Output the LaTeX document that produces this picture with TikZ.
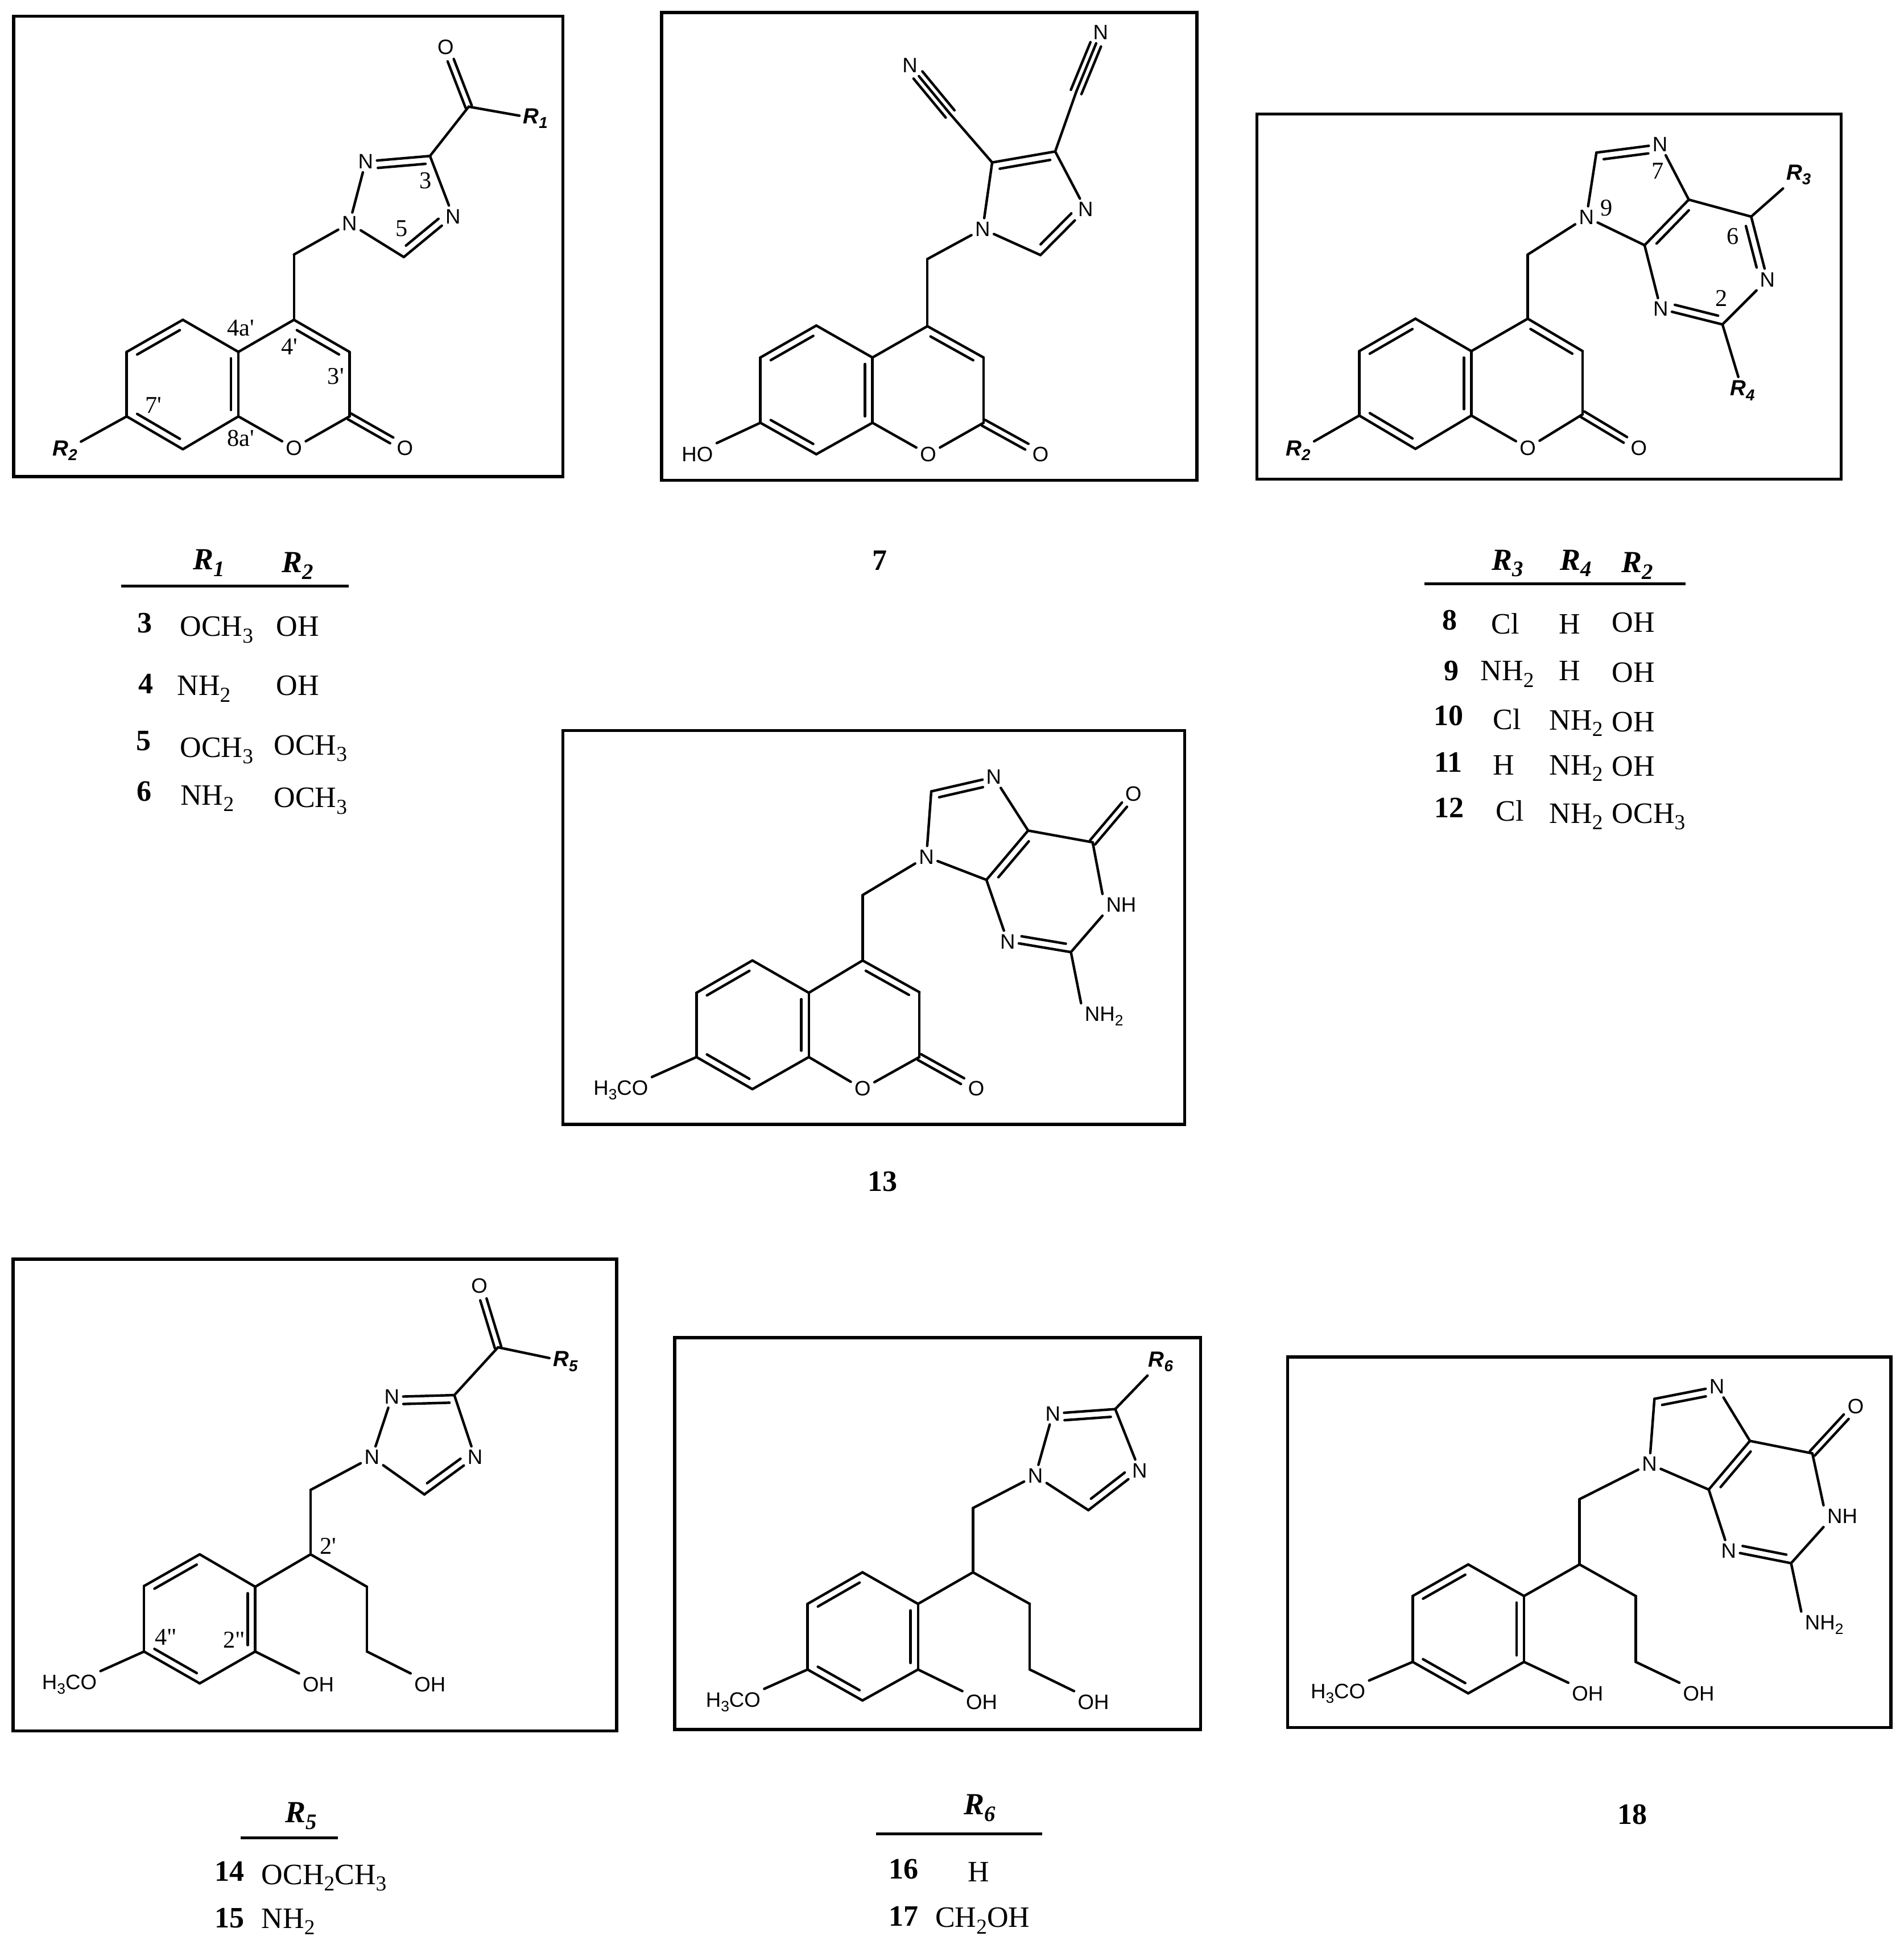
\documentclass[tikz,border=0pt]{standalone}
\usepackage{fontspec}
\setmainfont{Liberation Serif}
\newfontfamily\atomfont{Liberation Sans}
\usetikzlibrary{calc}
\tikzset{
  bond/.style={line width=1.15pt,line cap=round,line join=round},
  molbox/.style={draw,line width=1.4pt},
  tabrule/.style={line width=1.3pt},
  atom/.style={font=\atomfont\fontsize{9.5}{11}\selectfont,inner sep=1.5pt},
  rgroup/.style={font=\atomfont\bfseries\itshape\fontsize{10}{12}\selectfont,inner sep=1.5pt},
  numlabel/.style={font=\fontsize{11}{13}\selectfont,inner sep=0pt},
  cell/.style={font=\fontsize{13.5}{15}\selectfont,inner sep=0pt,anchor=base west},
  headcell/.style={font=\bfseries\itshape\fontsize{14}{16}\selectfont,inner sep=0pt,anchor=base west},
  idx/.style={font=\bfseries\fontsize{13.5}{15}\selectfont,inner sep=0pt}
}
\newcommand{\prm}{\textquotesingle}
\newcommand{\dprm}{\textquotedbl}
\newcommand{\sbs}[1]{\raisebox{-.22em}{\scalebox{.72}{#1}}}
\newcommand{\dbond}[5]{
  \draw[bond] (#1) -- (#2);
  \draw[bond] ($(#1)!#4!(#2)!3.4pt!#3:(#2)$) -- ($(#1)!#5!(#2)!3.4pt!#3:(#2)$);
}
\newcommand{\cbond}[3]{
  \draw[bond] ($(#1)!1.5pt!90:(#2)$) -- ($(#1)!#3!(#2)!1.5pt!90:(#2)$);
  \draw[bond] ($(#1)!1.5pt!-90:(#2)$) -- ($(#1)!#3!(#2)!1.5pt!-90:(#2)$);
}
\newcommand{\tbond}[3]{
  \draw[bond] (#1) -- (#2);
  \draw[bond] ($(#1)!2.6pt!90:(#2)$) -- ($(#1)!#3!(#2)!2.6pt!90:(#2)$);
  \draw[bond] ($(#1)!2.6pt!-90:(#2)$) -- ($(#1)!#3!(#2)!2.6pt!-90:(#2)$);
}
\begin{document}
\begin{tikzpicture}[x=0.02cm,y=-0.02cm]
  \useasboundingbox (0,0) rectangle (1525,1568.3);

  \draw[molbox] (11,13) rectangle (451,382);
  \coordinate (aCO) at (375.5,85.5);
  \node[atom] (aO) at (357,37.7) {O};
  \node[rgroup] (aR1) at (429,95) {R\sbs{1}};
  \coordinate (aC3) at (344.5,125);
  \node[atom] (aN2) at (293,129.4) {N};
  \node[atom] (aN4) at (363,173.4) {N};
  \node[atom] (aN1) at (280,179) {N};
  \coordinate (aC5) at (323.5,206);
  \coordinate (aCH) at (235.5,204);
  \coordinate (aCp4) at (235.5,256.3);
  \coordinate (aCp3) at (280,282);
  \coordinate (aCp2) at (280,333.7);
  \node[atom] (aOr) at (235.5,359) {O};
  \node[atom] (aOx) at (324.5,359) {O};
  \coordinate (aC8a) at (191,333.7);
  \coordinate (aC4a) at (191,282);
  \coordinate (aCp5) at (146.5,256.3);
  \coordinate (aCp6) at (101.5,282);
  \coordinate (aCp7) at (101.5,333.7);
  \coordinate (aCp8) at (146.5,360);
  \node[rgroup] (aR2) at (52,361) {R\sbs{2}};
  \cbond{aCO}{aO}{.78}
  \draw[bond] (aCO) -- (aR1);
  \draw[bond] (aCO) -- (aC3);
  \dbond{aC3}{aN2}{90}{.08}{.82}
  \draw[bond] (aC3) -- (aN4);
  \draw[bond] (aN1) -- (aN2);
  \draw[bond] (aN1) -- (aC5);
  \dbond{aN4}{aC5}{-90}{.2}{.86}
  \draw[bond] (aCH) -- (aN1);
  \draw[bond] (aCH) -- (aCp4);
  \dbond{aCp4}{aCp3}{-90}{.12}{.88}
  \draw[bond] (aCp3) -- (aCp2);
  \draw[bond] (aCp2) -- (aOr);
  \draw[bond] (aOr) -- (aC8a);
  \cbond{aCp2}{aOx}{.76}
  \dbond{aC8a}{aC4a}{90}{.1}{.9}
  \draw[bond] (aC4a) -- (aCp4);
  \draw[bond] (aC4a) -- (aCp5);
  \dbond{aCp5}{aCp6}{90}{.12}{.88}
  \draw[bond] (aCp6) -- (aCp7);
  \dbond{aCp7}{aCp8}{90}{.12}{.88}
  \draw[bond] (aCp8) -- (aC8a);
  \draw[bond] (aCp7) -- (aR2);
  \node[numlabel] (aNum3) at (341,145) {3};
  \node[numlabel] (aNum5) at (322,183) {5};
  \node[numlabel] (aNum4a) at (193,263) {4a\prm};
  \node[numlabel] (aNum4) at (232,278) {4\prm};
  \node[numlabel] (aNum3p) at (269,301.5) {3\prm};
  \node[numlabel] (aNum7) at (123,325) {7\prm};
  \node[numlabel] (aNum8a) at (193,351) {8a\prm};

  \node[headcell] (taR1) at (154.2,456.6) {R\sbs{1}};
  \node[headcell] (taR2) at (225.6,458.6) {R\sbs{2}};
  \draw[tabrule] (97.2,469.5) -- (279.6,469.5);
  \node[idx] (ta3) at (116.2,499.4) {3};
  \node[cell] (ta3a) at (143.9,509.8) {OCH\sbs{3}};
  \node[cell] (ta3b) at (221,509.8) {OH};
  \node[idx] (ta4) at (117,547.8) {4};
  \node[cell] (ta4a) at (141.6,557.3) {NH\sbs{2}};
  \node[cell] (ta4b) at (221,557.3) {OH};
  \node[idx] (ta5) at (115.1,593.8) {5};
  \node[cell] (ta5a) at (143.9,606.7) {OCH\sbs{3}};
  \node[cell] (ta5b) at (219.1,604.8) {OCH\sbs{3}};
  \node[idx] (ta6) at (115.4,634.4) {6};
  \node[cell] (ta6a) at (144.3,645) {NH\sbs{2}};
  \node[cell] (ta6b) at (219.1,647) {OCH\sbs{3}};

  \draw[molbox] (530,10) rectangle (959,385);
  \node[atom] (bNa) at (881.8,26) {N};
  \coordinate (bCa) at (862.2,73.7);
  \coordinate (bC4) at (845.4,121.4);
  \node[atom] (bNb) at (729,52.3) {N};
  \coordinate (bCb) at (761.2,91.3);
  \coordinate (bC5) at (794.9,130.2);
  \node[atom] (bN1) at (787.3,183.5) {N};
  \node[atom] (bN3) at (869.8,167.9) {N};
  \coordinate (bC2) at (833.6,204.4);
  \coordinate (bCH) at (743,207.6);
  \coordinate (bCp4) at (743,261.4);
  \coordinate (bCp3) at (788,286.5);
  \coordinate (bCp2) at (788,338.8);
  \node[atom] (bOr) at (743.6,364) {O};
  \node[atom] (bOx) at (833.6,364) {O};
  \coordinate (bC8a) at (699,338.8);
  \coordinate (bC4a) at (699,286.5);
  \coordinate (bCp5) at (654,260.9);
  \coordinate (bCp6) at (609.2,286.5);
  \coordinate (bCp7) at (609.2,338.8);
  \coordinate (bCp8) at (654,364);
  \node[atom] (bHO) at (558.7,364) {HO};
  \tbond{bCa}{bNa}{.8}
  \draw[bond] (bC4) -- (bCa);
  \tbond{bCb}{bNb}{.8}
  \draw[bond] (bC5) -- (bCb);
  \dbond{bC5}{bC4}{-90}{.1}{.9}
  \draw[bond] (bC5) -- (bN1);
  \draw[bond] (bC4) -- (bN3);
  \dbond{bN3}{bC2}{-90}{.2}{.88}
  \draw[bond] (bN1) -- (bC2);
  \draw[bond] (bCH) -- (bN1);
  \draw[bond] (bCH) -- (bCp4);
  \dbond{bCp4}{bCp3}{-90}{.12}{.88}
  \draw[bond] (bCp3) -- (bCp2);
  \draw[bond] (bCp2) -- (bOr);
  \draw[bond] (bOr) -- (bC8a);
  \cbond{bCp2}{bOx}{.76}
  \dbond{bC8a}{bC4a}{90}{.1}{.9}
  \draw[bond] (bC4a) -- (bCp4);
  \draw[bond] (bC4a) -- (bCp5);
  \dbond{bCp5}{bCp6}{90}{.12}{.88}
  \draw[bond] (bCp6) -- (bCp7);
  \dbond{bCp7}{bCp8}{90}{.12}{.88}
  \draw[bond] (bCp8) -- (bC8a);
  \draw[bond] (bCp7) -- (bHO.north east);
  \node[idx] (cap7) at (705,449) {7};

  \draw[molbox] (1007,91.5) rectangle (1475,384);
  \node[atom] (cN7) at (1330,115.7) {N};
  \coordinate (cC8) at (1279,122.3);
  \node[atom] (cN9) at (1271,174) {N};
  \coordinate (cC4) at (1317.6,196.5);
  \coordinate (cC5) at (1353,160);
  \coordinate (cC6) at (1403,173.6);
  \node[rgroup] (cR3) at (1441,140) {R\sbs{3}};
  \node[atom] (cN1) at (1416,224) {N};
  \coordinate (cC2) at (1380,260);
  \node[atom] (cN3) at (1330.5,247.6) {N};
  \node[rgroup] (cR4) at (1396,313) {R\sbs{4}};
  \coordinate (cCH) at (1224,204);
  \coordinate (cCp4) at (1224,255.4);
  \coordinate (cCp3) at (1268,281.4);
  \coordinate (cCp2) at (1268,332);
  \node[atom] (cOr) at (1224,359) {O};
  \node[atom] (cOx) at (1313,359) {O};
  \coordinate (cC8a) at (1178.8,333);
  \coordinate (cC4a) at (1178.8,281.4);
  \coordinate (cCp5) at (1134,255.4);
  \coordinate (cCp6) at (1089,281.4);
  \coordinate (cCp7) at (1089,333);
  \coordinate (cCp8) at (1134,359.7);
  \node[rgroup] (cR2) at (1040,361) {R\sbs{2}};
  \dbond{cC8}{cN7}{-90}{.1}{.8}
  \draw[bond] (cC8) -- (cN9);
  \draw[bond] (cN9) -- (cC4);
  \draw[bond] (cN7) -- (cC5);
  \dbond{cC4}{cC5}{-90}{.15}{.88}
  \draw[bond] (cC5) -- (cC6);
  \dbond{cC6}{cN1}{-90}{.12}{.78}
  \draw[bond] (cN1) -- (cC2);
  \dbond{cC2}{cN3}{-90}{.1}{.8}
  \draw[bond] (cN3) -- (cC4);
  \draw[bond] (cC6) -- (cR3);
  \draw[bond] (cC2) -- (cR4);
  \draw[bond] (cCH) -- (cN9);
  \draw[bond] (cCH) -- (cCp4);
  \dbond{cCp4}{cCp3}{-90}{.12}{.88}
  \draw[bond] (cCp3) -- (cCp2);
  \draw[bond] (cCp2) -- (cOr);
  \draw[bond] (cOr) -- (cC8a);
  \cbond{cCp2}{cOx}{.76}
  \dbond{cC8a}{cC4a}{90}{.1}{.9}
  \draw[bond] (cC4a) -- (cCp4);
  \draw[bond] (cC4a) -- (cCp5);
  \dbond{cCp5}{cCp6}{90}{.12}{.88}
  \draw[bond] (cCp6) -- (cCp7);
  \dbond{cCp7}{cCp8}{90}{.12}{.88}
  \draw[bond] (cCp8) -- (cC8a);
  \draw[bond] (cCp7) -- (cR2);
  \node[numlabel] (cNum7) at (1328,137) {7};
  \node[numlabel] (cNum9) at (1287,166.5) {9};
  \node[numlabel] (cNum6) at (1388.5,189.4) {6};
  \node[numlabel] (cNum2) at (1379,239) {2};

  \node[headcell] (tcR3) at (1195,456.7) {R\sbs{3}};
  \node[headcell] (tcR4) at (1249.7,456.7) {R\sbs{4}};
  \node[headcell] (tcR2) at (1298.8,458.6) {R\sbs{2}};
  \draw[tabrule] (1141.3,468) -- (1350.5,468);
  \node[idx] (tc8) at (1161.3,497.2) {8};
  \node[cell] (tc8a) at (1194.5,508) {Cl};
  \node[cell] (tc8b) at (1248.6,508) {H};
  \node[cell] (tc8c) at (1291.2,506.7) {OH};
  \node[idx] (tc9) at (1162.8,537.5) {9};
  \node[cell] (tc9a) at (1185.9,545.4) {NH\sbs{2}};
  \node[cell] (tc9b) at (1248.6,545.4) {H};
  \node[cell] (tc9c) at (1291.2,546.6) {OH};
  \node[idx] (tc10) at (1160.5,573.7) {10};
  \node[cell] (tc10a) at (1196,584.5) {Cl};
  \node[cell] (tc10b) at (1241,584.8) {NH\sbs{2}};
  \node[cell] (tc10c) at (1291.2,586.4) {OH};
  \node[idx] (tc11) at (1160.3,610.8) {11};
  \node[cell] (tc11a) at (1195.8,621) {H};
  \node[cell] (tc11b) at (1241,621) {NH\sbs{2}};
  \node[cell] (tc11c) at (1291.2,621.8) {OH};
  \node[idx] (tc12) at (1161.1,647.1) {12};
  \node[cell] (tc12a) at (1198,658) {Cl};
  \node[cell] (tc12b) at (1241,659.7) {NH\sbs{2}};
  \node[cell] (tc12c) at (1291.2,659.7) {OCH\sbs{3}};

  \draw[molbox] (451,585.5) rectangle (949,901);
  \node[atom] (dN7) at (796.2,622.7) {N};
  \coordinate (dC8) at (746.1,634.2);
  \node[atom] (dN9) at (742.2,686.6) {N};
  \coordinate (dC4) at (790.3,705.1);
  \coordinate (dC5) at (823.7,665.6);
  \coordinate (dC6) at (875.4,675);
  \node[atom] (dO) at (908.1,636.3) {O};
  \node[atom] (dNH) at (898.3,725.1) {NH};
  \coordinate (dC2) at (858,763);
  \node[atom] (dN3) at (807.3,754.5) {N};
  \node[atom] (dNH2) at (884.5,814.5) {NH\sbs{2}};
  \coordinate (dCH) at (691.1,717.3);
  \coordinate (dCp4) at (691.1,769.7);
  \coordinate (dCp3) at (736.6,795.1);
  \coordinate (dCp2) at (736.6,847.1);
  \node[atom] (dOr) at (691.1,872.5) {O};
  \node[atom] (dOx) at (782.1,872.5) {O};
  \coordinate (dC8a) at (648,847.1);
  \coordinate (dC4a) at (648,795.6);
  \coordinate (dCp5) at (602.8,769.7);
  \coordinate (dCp6) at (558,795.6);
  \coordinate (dCp7) at (558,847.1);
  \coordinate (dCp8) at (602.8,872.8);
  \node[atom] (dMeO) at (497.4,873.8) {H\sbs{3}CO};
  \dbond{dC8}{dN7}{-90}{.1}{.8}
  \draw[bond] (dC8) -- (dN9);
  \draw[bond] (dN9) -- (dC4);
  \draw[bond] (dN7) -- (dC5);
  \dbond{dC4}{dC5}{-90}{.15}{.88}
  \draw[bond] (dC5) -- (dC6);
  \cbond{dC6}{dO}{.78}
  \draw[bond] (dC6) -- (dNH.north west);
  \draw[bond] (dNH.south west) -- (dC2);
  \dbond{dC2}{dN3}{-90}{.1}{.8}
  \draw[bond] (dN3) -- (dC4);
  \draw[bond] (dC2) -- (dNH2.north west);
  \draw[bond] (dCH) -- (dN9);
  \draw[bond] (dCH) -- (dCp4);
  \dbond{dCp4}{dCp3}{-90}{.12}{.88}
  \draw[bond] (dCp3) -- (dCp2);
  \draw[bond] (dCp2) -- (dOr);
  \draw[bond] (dOr) -- (dC8a);
  \cbond{dCp2}{dOx}{.76}
  \dbond{dC8a}{dC4a}{90}{.1}{.9}
  \draw[bond] (dC4a) -- (dCp4);
  \draw[bond] (dC4a) -- (dCp5);
  \dbond{dCp5}{dCp6}{90}{.12}{.88}
  \draw[bond] (dCp6) -- (dCp7);
  \dbond{dCp7}{dCp8}{90}{.12}{.88}
  \draw[bond] (dCp8) -- (dC8a);
  \draw[bond] (dCp7) -- (dMeO.north east);
  \node[idx] (cap13) at (707,947) {13};

  \draw[molbox] (10.5,1009) rectangle (494,1387);
  \node[atom] (eO) at (384,1030.5) {O};
  \coordinate (eCO) at (399,1079.7);
  \node[rgroup] (eR5) at (453,1091) {R\sbs{5}};
  \coordinate (eC3) at (364,1118);
  \node[atom] (eN2) at (314,1119.4) {N};
  \node[atom] (eN4) at (380.6,1167.8) {N};
  \node[atom] (eN1) at (298,1167.8) {N};
  \coordinate (eC5) at (340,1197.6);
  \coordinate (eCH) at (248.8,1194);
  \coordinate (eCb) at (248.8,1245.6);
  \coordinate (eCc) at (294,1271.6);
  \coordinate (eCd) at (294,1323.5);
  \node[atom] (eOHb) at (344.5,1349.9) {OH};
  \coordinate (eAr1) at (204.5,1271.6);
  \coordinate (eAr2) at (204.5,1323.5);
  \coordinate (eAr3) at (160,1349);
  \coordinate (eAr4) at (115.4,1323.5);
  \coordinate (eAr5) at (115.4,1271);
  \coordinate (eAr6) at (160,1245.6);
  \node[atom] (eOHa) at (255,1349.9) {OH};
  \node[atom] (eMeO) at (55.6,1349.9) {H\sbs{3}CO};
  \cbond{eCO}{eO}{.78}
  \draw[bond] (eCO) -- (eR5);
  \draw[bond] (eCO) -- (eC3);
  \dbond{eC3}{eN2}{90}{.08}{.82}
  \draw[bond] (eC3) -- (eN4);
  \draw[bond] (eN1) -- (eN2);
  \draw[bond] (eN1) -- (eC5);
  \dbond{eN4}{eC5}{-90}{.2}{.86}
  \draw[bond] (eCH) -- (eN1);
  \draw[bond] (eCH) -- (eCb);
  \draw[bond] (eCb) -- (eCc);
  \draw[bond] (eCc) -- (eCd);
  \draw[bond] (eCd) -- (eOHb.north west);
  \draw[bond] (eCb) -- (eAr1);
  \dbond{eAr2}{eAr1}{90}{.1}{.9}
  \draw[bond] (eAr2) -- (eAr3);
  \dbond{eAr4}{eAr3}{90}{.12}{.88}
  \draw[bond] (eAr4) -- (eAr5);
  \dbond{eAr6}{eAr5}{90}{.12}{.88}
  \draw[bond] (eAr6) -- (eAr1);
  \draw[bond] (eAr2) -- (eOHa.north west);
  \draw[bond] (eAr4) -- (eMeO.north east);
  \node[numlabel] (eNum2p) at (263,1239) {2\prm};
  \node[numlabel] (eNum4) at (132.8,1312) {4\dprm};
  \node[numlabel] (eNum2) at (187.5,1314) {2\dprm};

  \node[headcell] (teR5) at (228.3,1460.4) {R\sbs{5}};
  \draw[tabrule] (192.8,1472.8) -- (270.6,1472.8);
  \node[idx] (te14) at (183.9,1499.7) {14};
  \node[cell] (te14a) at (209.2,1510) {OCH\sbs{2}CH\sbs{3}};
  \node[idx] (te15) at (183.9,1537) {15};
  \node[cell] (te15a) at (209.2,1545.2) {NH\sbs{2}};

  \draw[molbox] (540.5,1072) rectangle (962,1386);
  \node[rgroup] (fR6) at (930,1091.3) {R\sbs{6}};
  \coordinate (fC3) at (893.5,1129.2);
  \node[atom] (fN2) at (843.5,1132.8) {N};
  \node[atom] (fN4) at (913,1178.4) {N};
  \node[atom] (fN1) at (829.5,1182.6) {N};
  \coordinate (fC5) at (872,1210.2);
  \coordinate (fCH) at (779.5,1208.5);
  \coordinate (fCb) at (779.5,1260);
  \coordinate (fCc) at (825,1285.3);
  \coordinate (fCd) at (825,1337.9);
  \node[atom] (fOHb) at (876,1364.1) {OH};
  \coordinate (fAr1) at (735.5,1285.3);
  \coordinate (fAr2) at (735.5,1337.9);
  \coordinate (fAr3) at (691,1362.7);
  \coordinate (fAr4) at (647,1337.9);
  \coordinate (fAr5) at (647,1285.3);
  \coordinate (fAr6) at (691,1260);
  \node[atom] (fOHa) at (786.5,1364.1) {OH};
  \node[atom] (fMeO) at (587.4,1364.1) {H\sbs{3}CO};
  \draw[bond] (fC3) -- (fR6);
  \dbond{fC3}{fN2}{90}{.08}{.82}
  \draw[bond] (fC3) -- (fN4);
  \draw[bond] (fN1) -- (fN2);
  \draw[bond] (fN1) -- (fC5);
  \dbond{fN4}{fC5}{-90}{.2}{.86}
  \draw[bond] (fCH) -- (fN1);
  \draw[bond] (fCH) -- (fCb);
  \draw[bond] (fCb) -- (fCc);
  \draw[bond] (fCc) -- (fCd);
  \draw[bond] (fCd) -- (fOHb.north west);
  \draw[bond] (fCb) -- (fAr1);
  \dbond{fAr2}{fAr1}{90}{.1}{.9}
  \draw[bond] (fAr2) -- (fAr3);
  \dbond{fAr4}{fAr3}{90}{.12}{.88}
  \draw[bond] (fAr4) -- (fAr5);
  \dbond{fAr6}{fAr5}{90}{.12}{.88}
  \draw[bond] (fAr6) -- (fAr1);
  \draw[bond] (fAr2) -- (fOHa.north west);
  \draw[bond] (fAr4) -- (fMeO.north east);

  \node[headcell] (tfR6) at (772,1454.3) {R\sbs{6}};
  \draw[tabrule] (702,1469.7) -- (835,1469.7);
  \node[idx] (tf16) at (724,1497.8) {16};
  \node[cell,anchor=base] (tf16a) at (784,1508) {H};
  \node[idx] (tf17) at (724,1535.6) {17};
  \node[cell] (tf17a) at (749,1544.4) {CH\sbs{2}OH};

  \draw[molbox] (1031.5,1087.5) rectangle (1515,1384.5);
  \node[atom] (gN7) at (1375.5,1111.2) {N};
  \coordinate (gC8) at (1325.5,1121);
  \node[atom] (gN9) at (1321.5,1173.2) {N};
  \coordinate (gC4) at (1369,1193.7);
  \coordinate (gC5) at (1402,1154.7);
  \coordinate (gC6) at (1452,1164.7);
  \node[atom] (gO) at (1486.8,1127) {O};
  \node[atom] (gNH) at (1476,1215) {NH};
  \coordinate (gC2) at (1435,1252.7);
  \node[atom] (gN3) at (1385,1242.8) {N};
  \node[atom] (gNH2) at (1461.5,1302) {NH\sbs{2}};
  \coordinate (gCH) at (1265.5,1201.4);
  \coordinate (gCb) at (1265.5,1253.7);
  \coordinate (gCc) at (1310.5,1279);
  \coordinate (gCd) at (1310.5,1331.8);
  \node[atom] (gOHb) at (1361,1357.4) {OH};
  \coordinate (gAr1) at (1221,1279);
  \coordinate (gAr2) at (1221,1331.8);
  \coordinate (gAr3) at (1176.3,1357);
  \coordinate (gAr4) at (1131.8,1331.8);
  \coordinate (gAr5) at (1131.8,1279);
  \coordinate (gAr6) at (1176.3,1253.7);
  \node[atom] (gOHa) at (1272,1357.4) {OH};
  \node[atom] (gMeO) at (1072,1357.4) {H\sbs{3}CO};
  \dbond{gC8}{gN7}{-90}{.1}{.8}
  \draw[bond] (gC8) -- (gN9);
  \draw[bond] (gN9) -- (gC4);
  \draw[bond] (gN7) -- (gC5);
  \dbond{gC4}{gC5}{-90}{.15}{.88}
  \draw[bond] (gC5) -- (gC6);
  \cbond{gC6}{gO}{.78}
  \draw[bond] (gC6) -- (gNH.north west);
  \draw[bond] (gNH.south west) -- (gC2);
  \dbond{gC2}{gN3}{-90}{.1}{.8}
  \draw[bond] (gN3) -- (gC4);
  \draw[bond] (gC2) -- (gNH2.north west);
  \draw[bond] (gCH) -- (gN9);
  \draw[bond] (gCH) -- (gCb);
  \draw[bond] (gCb) -- (gCc);
  \draw[bond] (gCc) -- (gCd);
  \draw[bond] (gCd) -- (gOHb.north west);
  \draw[bond] (gCb) -- (gAr1);
  \dbond{gAr2}{gAr1}{90}{.1}{.9}
  \draw[bond] (gAr2) -- (gAr3);
  \dbond{gAr4}{gAr3}{90}{.12}{.88}
  \draw[bond] (gAr4) -- (gAr5);
  \dbond{gAr6}{gAr5}{90}{.12}{.88}
  \draw[bond] (gAr6) -- (gAr1);
  \draw[bond] (gAr2) -- (gOHa.north west);
  \draw[bond] (gAr4) -- (gMeO.north east);
  \node[idx] (cap18) at (1308,1454) {18};
\end{tikzpicture}
\end{document}
